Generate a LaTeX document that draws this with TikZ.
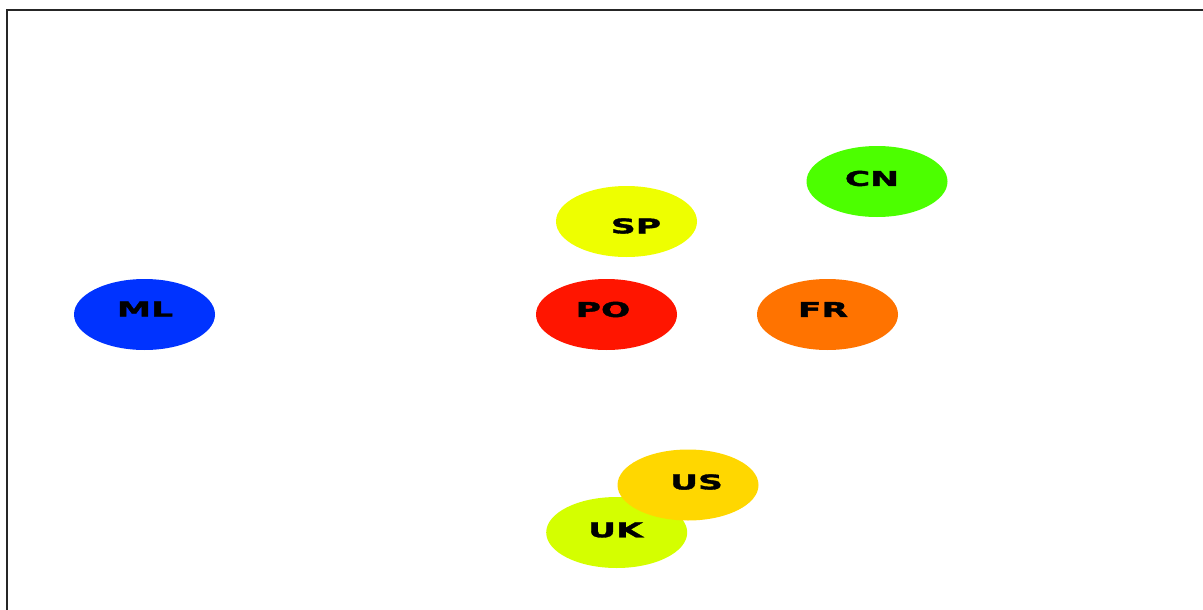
\documentclass[tikz,border=0pt]{standalone}
\usepackage{fontspec}
\setmainfont{DejaVu Sans}
\newfontfamily\lblfont{DejaVu Sans Bold}[FakeStretch=1.7, FakeBold=1.8]
\usetikzlibrary{shapes.geometric}
\definecolor{cCN}{HTML}{4CFF00}
\definecolor{cSP}{HTML}{EEFF00}
\definecolor{cML}{HTML}{0033FF}
\definecolor{cPO}{HTML}{FF1500}
\definecolor{cFR}{HTML}{FF7300}
\definecolor{cUS}{HTML}{FFD700}
\definecolor{cUK}{HTML}{D4FF00}
\tikzset{
  blob/.style={ellipse, draw=none, minimum width=141pt, minimum height=71pt, inner sep=0pt},
  lbl/.style={inner sep=0pt, font=\lblfont\fontsize{20.3}{21}\selectfont, text=black},
  frame/.style={line width=1.3pt, draw=black!85}
}
\begin{document}
\begin{tikzpicture}[x=1pt,y=-1pt]
\useasboundingbox (0,0) rectangle (1203,610);
\coordinate (f1) at (7,610);
\coordinate (f2) at (7,10);
\coordinate (f3) at (1203,10);
\draw[frame] (f1) -- (f2) -- (f3);
\node[blob, fill=cCN] (cn) at (877,181.5) {};
\node[lbl] (cnt) at (872,178.5) {CN};
\node[blob, fill=cSP] (sp) at (626.5,221.5) {};
\node[lbl] (spt) at (636,226) {SP};
\node[blob, fill=cML] (ml) at (144.5,314.5) {};
\node[lbl] (mlt) at (145,309) {ML};
\node[blob, fill=cPO] (po) at (606.5,314.5) {};
\node[lbl] (pot) at (603,309.5) {PO};
\node[blob, fill=cFR] (fr) at (827.5,314.5) {};
\node[lbl] (frt) at (823,309.5) {FR};
\node[blob, fill=cUK] (uk) at (616.7,532.5) {};
\node[lbl] (ukt) at (615.5,530) {UK};
\node[blob, fill=cUS] (us) at (688,485) {};
\node[lbl] (ust) at (696.5,482) {US};
\end{tikzpicture}
\end{document}
